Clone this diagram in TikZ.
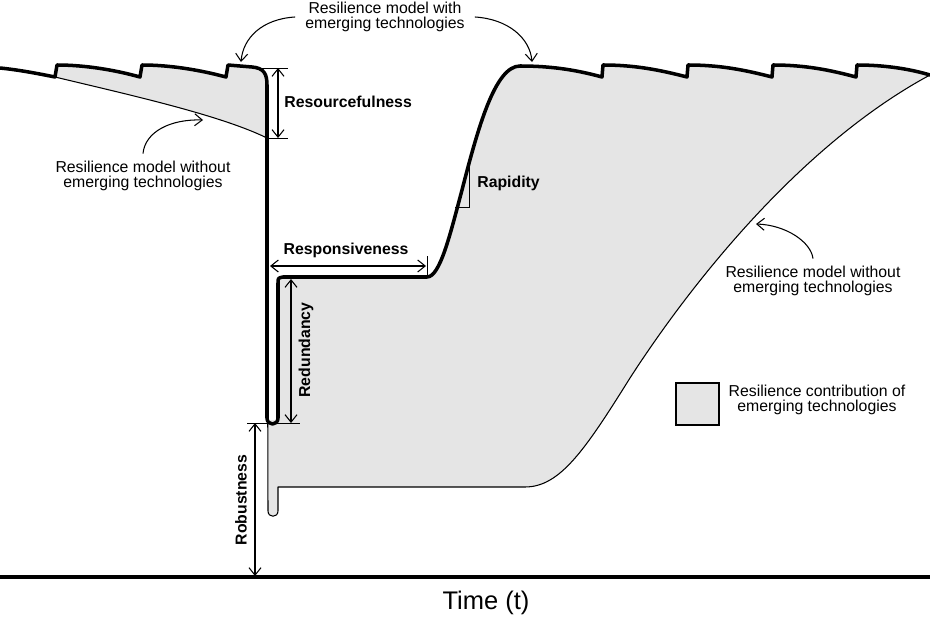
\documentclass[tikz,border=0pt]{standalone}
\usepackage{fontspec}
\setmainfont{Liberation Sans}
\usetikzlibrary{arrows.meta}
\tikzset{
  withtech/.style={line width=2pt, line join=round, line cap=round},
  without/.style={line width=0.6pt, line join=round},
  gain/.style={fill=gray!20},
  axisline/.style={line width=1.8pt},
  tickline/.style={line width=0.5pt},
  dimline/.style={line width=0.6pt, {Straight Barb[length=1.5mm,width=2.4mm]}-{Straight Barb[length=1.5mm,width=2.4mm]}},
  pointer/.style={line width=0.6pt, -{Straight Barb[length=1.5mm,width=2.4mm]}},
  note/.style={align=center, inner sep=0pt, font=\fontsize{9}{8.2}\selectfont},
  dimlabel/.style={inner sep=0pt, font=\fontsize{9}{10}\selectfont\bfseries}
}

\begin{document}
\begin{tikzpicture}[x=0.2mm, y=-0.2mm]
\useasboundingbox (0,0) rectangle (930,620);

% shaded gain before the event
\fill[gain] (55,77) -- (57,65) .. controls (85,65) and (115,70) .. (140,77)
  -- (142,65) .. controls (170,65) and (200,70) .. (226,77)
  -- (228,65) -- (252,67) .. controls (264,68) and (267,74) .. (267,85)
  -- (267,138) .. controls (220,115) and (130,95) .. (55,77) -- cycle;

% shaded gain during recovery
\fill[gain] (278,277) -- (427,277) .. controls (440,277) and (450,235) .. (462,190)
  .. controls (478,128) and (495,66) .. (520,66)
  .. controls (555,66) and (580,71) .. (602,77)
  -- (603,65) .. controls (635,65) and (660,70) .. (687,77)
  -- (688,65) .. controls (720,65) and (745,70) .. (772,77)
  -- (773,65) .. controls (805,65) and (830,70) .. (856,77)
  -- (857,65) .. controls (885,65) and (910,69) .. (930,75)
  .. controls (800,145) and (690,285) .. (630,378)
  .. controls (585,450) and (560,487) .. (525,487)
  -- (278,487) -- (278,511) .. controls (278,518) and (268,518) .. (268,511)
  -- (268,420) -- (278,420) -- cycle;

% model without emerging technologies
\draw[without] (55,77) .. controls (130,95) and (220,115) .. (267,138)
  -- (268,511) .. controls (268,518) and (278,518) .. (278,511)
  -- (278,487) -- (525,487) .. controls (560,487) and (585,450) .. (630,378)
  .. controls (690,285) and (800,145) .. (930,75);

% model with emerging technologies
\draw[withtech] (0,68) .. controls (20,70) and (40,74) .. (55,77)
  -- (57,65) .. controls (85,65) and (115,70) .. (140,77)
  -- (142,65) .. controls (170,65) and (200,70) .. (226,77)
  -- (228,65) -- (252,67) .. controls (264,68) and (267,74) .. (267,85)
  -- (267,418) .. controls (267,426) and (278,426) .. (278,418)
  -- (278,283) .. controls (278,278) .. (283,277)
  -- (427,277) .. controls (440,277) and (450,235) .. (462,190)
  .. controls (478,128) and (495,66) .. (520,66)
  .. controls (555,66) and (580,71) .. (602,77)
  -- (603,65) .. controls (635,65) and (660,70) .. (687,77)
  -- (688,65) .. controls (720,65) and (745,70) .. (772,77)
  -- (773,65) .. controls (805,65) and (830,70) .. (856,77)
  -- (857,65) .. controls (885,65) and (910,69) .. (930,75);

% time axis
\draw[axisline] (0,577) -- (930,577);
\node[font=\fontsize{14.5}{16}\selectfont] (time) at (486,603) {Time (t)};

% resourcefulness
\coordinate (resTop) at (278,68);
\coordinate (resBot) at (278,138);
\draw[tickline] (262,68) -- (288,68);
\draw[tickline] (268,138) -- (288,138);
\draw[dimline] (resTop) -- (resBot);
\node[dimlabel, anchor=west] (resource) at (284,102) {Resourcefulness};

% responsiveness
\coordinate (rspL) at (270,266);
\coordinate (rspR) at (426,266);
\draw[tickline] (427,256) -- (427,277);
\draw[dimline] (rspL) -- (rspR);
\node[dimlabel] (respons) at (346,250) {Responsiveness};

% redundancy
\coordinate (redTop) at (291,279);
\coordinate (redBot) at (291,423);
\draw[tickline] (247,423) -- (300,423);
\draw[dimline] (redTop) -- (redBot);
\node[dimlabel, rotate=90] (redund) at (306,350) {Redundancy};

% robustness
\coordinate (robTop) at (255,423);
\coordinate (robBot) at (255,576);
\draw[dimline] (robTop) -- (robBot);
\node[dimlabel, rotate=90] (robust) at (241,500) {Robustness};

% rapidity
\draw[tickline] (455,207) -- (469,207) -- (469,162);
\node[dimlabel, anchor=west] (rapid) at (477,183) {Rapidity};

% annotations
\node[note] (withnote) at (385,17) {Resilience model with\\emerging technologies};
\coordinate (peakL) at (241,62);
\coordinate (peakR) at (532,62);
\draw[pointer] ([xshift=-2mm]withnote.west) .. controls (262,19) and (243,38) .. (peakL);
\draw[pointer] ([xshift=2mm]withnote.east) .. controls (508,19) and (530,38) .. (peakR);

\node[note] (leftnote) at (143,176) {Resilience model without\\emerging technologies};
\coordinate (dropL) at (203,120);
\draw[pointer] ([yshift=1.5mm]leftnote.north) .. controls (145,132) and (170,119) .. (dropL);

\node[note] (rightnote) at (813,281) {Resilience model without\\emerging technologies};
\coordinate (riseR) at (756,224);
\draw[pointer] ([yshift=1.5mm]rightnote.north) .. controls (811,242) and (786,225) .. (riseR);

% legend
\node[draw, fill=gray!20, line width=0.6pt, minimum width=8.6mm, minimum height=8.4mm, inner sep=0pt] (key) at (697.5,404) {};
\node[note] (keytext) at (817,400) {Resilience contribution of\\emerging technologies};
\end{tikzpicture}
\end{document}
